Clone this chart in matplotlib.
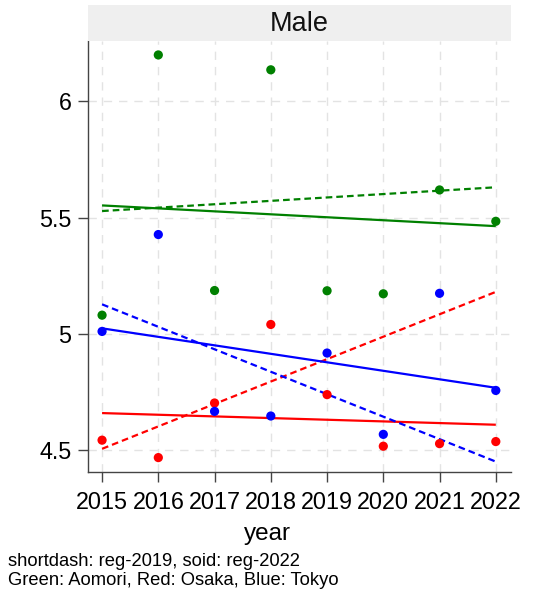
import numpy as np
import matplotlib
matplotlib.use("Agg")
import matplotlib.pyplot as plt
from matplotlib.patches import Rectangle

plt.rcParams['font.family'] = ['Liberation Sans', 'DejaVu Sans']

years = [2015, 2016, 2017, 2018, 2019, 2020, 2021, 2022]
aomori = [5.080, 6.200, 5.186, 6.136, 5.185, 5.172, 5.619, 5.484]
osaka = [4.542, 4.467, 4.702, 5.040, 4.738, 4.516, 4.527, 4.536]
tokyo = [5.010, 5.427, 4.666, 4.646, 4.917, 4.567, 5.174, 4.756]

series = [("Aomori", aomori, "#008000"),
          ("Osaka", osaka, "#FF0000"),
          ("Tokyo", tokyo, "#0000FF")]

yticks = [4.5, 5, 5.5, 6]
ytick_labels = ["4.5", "5", "5.5", "6"]

fig = plt.figure(figsize=(5.34, 5.97), dpi=100)
ax = fig.add_axes([88/534, 1 - 472/597, (511-88)/534, (472-41)/597])

x = np.array(years, dtype=float)
for name, vals, col in series:
    y = np.array(vals)
    # linear fit over the full period (solid)
    b_all = np.polyfit(x, y, 1)
    ax.plot(x, np.polyval(b_all, x), color=col, lw=1.6, solid_capstyle='butt', zorder=3)
    # linear fit up to 2019, extended to 2022 (short dash)
    m = x <= 2019
    b_19 = np.polyfit(x[m], y[m], 1)
    ax.plot(x, np.polyval(b_19, x), color=col, lw=1.6, ls=(0, (3.0, 1.8)), zorder=3)
    ax.scatter(x, y, s=44, color=col, edgecolors='none', zorder=4)

ax.set_xlim(2014.75, 2022.27)
ax.set_ylim(4.405, 6.26)
ax.set_xticks(years)
ax.set_xticklabels([str(v) for v in years], fontsize=16.8)
ax.set_yticks(yticks)
ax.set_yticklabels(ytick_labels, fontsize=16.8)

ax.grid(True, color='#E3E3E3', lw=1.0, ls=(0, (6, 5)), zorder=0)
for s in ['top', 'right']:
    ax.spines[s].set_visible(False)
for s in ['left', 'bottom']:
    ax.spines[s].set_color('#444444')
    ax.spines[s].set_linewidth(1.0)
ax.tick_params(axis='both', length=7, width=1.0, color='#444444', pad=5)
ax.tick_params(axis='x', pad=7)

# facet strip
strip = Rectangle((88/534, 1 - 41/597), (511-88)/534, 36/597,
                  transform=fig.transFigure, facecolor='#EFEFEF',
                  edgecolor='none', zorder=0)
fig.patches.append(strip)
fig.text((88+511)/2/534, 1 - 24/597, "Male", ha='center', va='center',
         fontsize=19.5, color='#111111')

fig.text(0.5, 1 - 540/597, "year", ha='center', va='baseline', fontsize=17.5)
fig.text(8/534, 1 - 566/597, "shortdash: reg-2019, soid: reg-2022",
         ha='left', va='baseline', fontsize=13.2)
fig.text(8/534, 1 - 585/597, "Green: Aomori, Red: Osaka, Blue: Tokyo",
         ha='left', va='baseline', fontsize=13.2)

fig.savefig("out.png", dpi=100, facecolor='white')
